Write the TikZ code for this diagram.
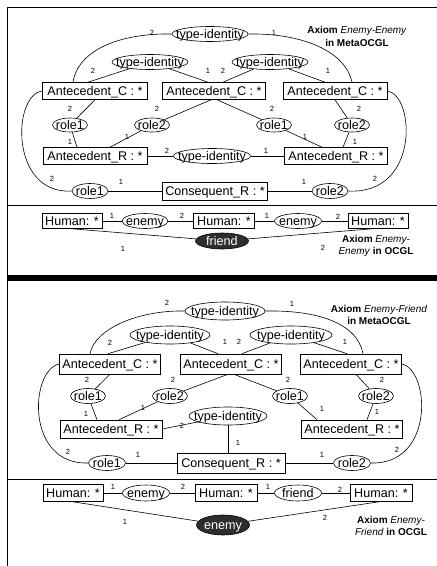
\documentclass[tikz,border=0pt]{standalone}
\usepackage{fontspec}
\setmainfont{Liberation Sans}
\usetikzlibrary{shapes.geometric,calc}
\newcommand\fsz{\fontsize{12.6}{14}\selectfont}
\newcommand\ctr[1]{\makebox[0pt]{#1}}
\begin{document}
\begin{tikzpicture}[x=1pt,y=-1pt,
  bx/.style 2 args={draw, line width=0.6pt, rectangle, inner sep=0pt, minimum width=#1pt, minimum height=#2pt, font=\fsz, text height=9pt, text depth=0pt},
  el/.style 2 args={draw, line width=0.6pt, ellipse, inner sep=0pt, minimum width=#1pt, minimum height=#2pt, font=\fsz, text height=8pt, text depth=0pt},
  fl/.style 2 args={el={#1}{#2}, fill=black!82, text=white},
  lb/.style={inner sep=0pt, font=\fontsize{7.5}{8}\selectfont},
  ax/.style={inner sep=0pt, align=center, font=\fontsize{10}{12.6}\selectfont},
  cn/.style={line width=0.6pt}
]
\useasboundingbox (0,0) rectangle (437,566);
% frame
\draw[line width=1.5pt] (7.5,566) -- (7.5,7.5) -- (437,7.5);
\draw[line width=0.8pt] (7.5,205) -- (437,205);
\fill (7,275) rectangle (437,281);
\draw[line width=0.8pt] (7.5,479) -- (437,479);

% ================= top panel =================
\node[el={76}{15}] (ti0) at (210,34) {\ctr{type-identity}};
\node[el={76}{15}] (ti1) at (150,62) {\ctr{type-identity}};
\node[el={76}{15}] (ti2) at (270,62) {\ctr{type-identity}};
\node[bx={105}{17}] (acl) at (95,91) {Antecedent\_C : *};
\node[bx={103}{17}] (acm) at (214,91) {Antecedent\_C : *};
\node[bx={104}{17}] (acr) at (335,91) {Antecedent\_C : *};
\node[el={35}{14}] (r1a) at (70,125) {\ctr{role1}};
\node[el={35}{14}] (r2a) at (152,125) {\ctr{role2}};
\node[el={35}{14}] (r1b) at (274,125) {\ctr{role1}};
\node[el={35}{14}] (r2b) at (352,125) {\ctr{role2}};
\node[bx={104}{17}] (arl) at (95,156) {Antecedent\_R : *};
\node[el={77}{15}] (tim) at (212,156) {\ctr{type-identity}};
\node[bx={103}{17}] (arr) at (336,156) {Antecedent\_R : *};
\node[el={36}{15}] (r1c) at (90,191) {\ctr{role1}};
\node[bx={105}{18}] (cons) at (215,191) {Consequent\_R : *};
\node[el={36}{15}] (r2c) at (330,191) {\ctr{role2}};
\node[bx={60}{15}] (hl) at (72,221) {Human: *};
\node[el={46}{15}] (en1) at (145,221) {\ctr{enemy}};
\node[bx={61}{15}] (hm) at (224,221) {Human: *};
\node[el={47}{15}] (en2) at (298,221) {\ctr{enemy}};
\node[bx={60}{15}] (hr) at (378,221) {Human: *};
\node[fl={53}{16}] (fr) at (222,241) {\ctr{friend}};
\node[ax] (axa) at (357,36.5) {\textbf{Axiom} \textit{Enemy-Enemy}\\\textbf{in MetaOCGL}};
\node[ax] (axb) at (376,246) {\textbf{Axiom} \textit{Enemy-}\\\textit{Enemy} \textbf{in OCGL}};

\draw[cn] (ti0.west) .. controls (120,33) and (78,50) .. ([xshift=-22pt]acl.north);
\draw[cn] (ti0.east) .. controls (300,33) and (345,50) .. ([xshift=17pt]acr.north);
\draw[cn] (acl.west) .. controls (12,95) and (10,195) .. (r1c.west);
\draw[cn] (acr.east) .. controls (415,95) and (420,195) .. (r2c.east);
\draw[cn] (ti1) -- ([xshift=-7pt]acl.north);
\draw[cn] (ti1) -- ([xshift=-6pt]acm.north);
\draw[cn] (ti2) -- ([xshift=9pt]acm.north);
\draw[cn] (ti2) -- ([xshift=-10pt]acr.north);
\draw[cn] (acl.south) -- (r1a);
\draw[cn] (r1a) -- ([xshift=-18pt]arl.north);
\draw[cn] ([xshift=-3pt]acm.south) -- (r2a);
\draw[cn] (r2a) -- ([xshift=15pt]arl.north);
\draw[cn] ([xshift=3pt]acm.south) -- (r1b);
\draw[cn] (r1b) -- ([xshift=-14pt]arr.north);
\draw[cn] (acr.south) -- (r2b);
\draw[cn] (r2b) -- ([xshift=7pt]arr.north);
\draw[cn] (arl) -- (tim) -- (arr);
\draw[cn] (r1c) -- (cons) -- (r2c);
\draw[cn] (hl) -- (en1) -- (hm) -- (en2) -- (hr);
\draw[cn] (hl.south) -- (fr);
\draw[cn] ([xshift=-6pt]hr.south) -- (fr);

\node[lb] (a1) at (152,33) {2};
\node[lb] (a2) at (274,33) {1};
\node[lb] (a3) at (93,71) {2};
\node[lb] (a4) at (208,71) {1};
\node[lb] (a5) at (223,71) {2};
\node[lb] (a6) at (328,71) {1};
\node[lb] (a7) at (70,109) {2};
\node[lb] (a8) at (157,109) {2};
\node[lb] (a9) at (272,109) {2};
\node[lb] (a10) at (359,109) {2};
\node[lb] (a11) at (70,142) {1};
\node[lb] (a12) at (127,137) {1};
\node[lb] (a13) at (305,137) {1};
\node[lb] (a14) at (355,142) {1};
\node[lb] (a15) at (167,151) {2};
\node[lb] (a16) at (266,151) {1};
\node[lb] (a17) at (52,179) {2};
\node[lb] (a18) at (121,182) {1};
\node[lb] (a19) at (304,182) {1};
\node[lb] (a20) at (375,179) {2};
\node[lb] (a21) at (112,216) {1};
\node[lb] (a22) at (182,216) {2};
\node[lb] (a23) at (267,216) {1};
\node[lb] (a24) at (338,217) {2};
\node[lb] (a25) at (123,249) {1};
\node[lb] (a26) at (323,248) {2};

% ================= bottom panel =================
\node[el={80}{18}] (ti3) at (225,311) {\ctr{type-identity}};
\node[el={80}{18}] (ti4) at (170,335) {\ctr{type-identity}};
\node[el={82}{18}] (ti5) at (291,335) {\ctr{type-identity}};
\node[bx={101}{20}] (acl2) at (110,364) {Antecedent\_C : *};
\node[bx={101}{20}] (acm2) at (231,364) {Antecedent\_C : *};
\node[bx={101}{20}] (acr2) at (351,364) {Antecedent\_C : *};
\node[el={35}{15}] (r1d) at (88,396) {\ctr{role1}};
\node[el={35}{15}] (r2d) at (170,396) {\ctr{role2}};
\node[el={35}{15}] (r1e) at (290,396) {\ctr{role1}};
\node[el={35}{15}] (r2e) at (376,396) {\ctr{role2}};
\node[el={78}{18}] (ti6) at (228,416) {\ctr{type-identity}};
\node[bx={102}{18}] (arl2) at (111,429) {Antecedent\_R : *};
\node[bx={101}{18}] (arr2) at (352,429) {Antecedent\_R : *};
\node[el={37}{15}] (r1f) at (107,463) {\ctr{role1}};
\node[bx={108}{20}] (cons2) at (231,463) {Consequent\_R : *};
\node[el={37}{15}] (r2f) at (352,463) {\ctr{role2}};
\node[bx={60}{17}] (hl2) at (73,493) {Human: *};
\node[el={47}{16}] (en3) at (146,493) {\ctr{enemy}};
\node[bx={62}{17}] (hm2) at (226,493) {Human: *};
\node[el={47}{16}] (fr2) at (298,493) {\ctr{friend}};
\node[bx={62}{17}] (hr2) at (381,493) {Human: *};
\node[fl={53}{20}] (enf) at (223,525) {\ctr{enemy}};
\node[ax] (axc) at (379,315) {\textbf{Axiom} \textit{Enemy-Friend}\\\textbf{in MetaOCGL}};
\node[ax] (axd) at (391,526) {\textbf{Axiom} \textit{Enemy-}\\\textit{Friend} \textbf{in OCGL}};

\draw[cn] (ti3.west) .. controls (140,310) and (95,328) .. ([xshift=-20pt]acl2.north);
\draw[cn] (ti3.east) .. controls (315,310) and (357,322) .. ([xshift=12pt]acr2.north);
\draw[cn] (acl2.west) .. controls (30,370) and (25,465) .. (r1f.west);
\draw[cn] (acr2.east) .. controls (430,370) and (435,465) .. (r2f.east);
\draw[cn] (ti4) -- ([xshift=-2pt]acl2.north);
\draw[cn] (ti4) -- ([xshift=-13pt]acm2.north);
\draw[cn] (ti5) -- ([xshift=11pt]acm2.north);
\draw[cn] (ti5) -- ([xshift=-4pt]acr2.north);
\draw[cn] (acl2.south) -- (r1d);
\draw[cn] (r1d) -- ([xshift=-14pt]arl2.north);
\draw[cn] ([xshift=-3pt]acm2.south) -- (r2d);
\draw[cn] (r2d) -- ([xshift=8pt]arl2.north);
\draw[cn] ([xshift=3pt]acm2.south) -- (r1e);
\draw[cn] (r1e) -- ([xshift=-35pt]arr2.north);
\draw[cn] ([xshift=5pt]acr2.south) -- (r2e);
\draw[cn] (r2e) -- ([xshift=15pt]arr2.north);
\draw[cn] (arl2.east) -- (ti6);
\draw[cn] (ti6.south) -- (ti6.south |- cons2.north);
\draw[cn] (r1f) -- (cons2) -- (r2f);
\draw[cn] (hl2) -- (en3) -- (hm2) -- (fr2) -- (hr2);
\draw[cn] (hl2.south) -- (enf);
\draw[cn] ([xshift=-2pt]hr2.south) -- (enf);

\node[lb] (b1) at (167,303) {2};
\node[lb] (b2) at (292,304) {1};
\node[lb] (b3) at (110,343) {2};
\node[lb] (b4) at (225,342) {1};
\node[lb] (b5) at (239,342) {2};
\node[lb] (b6) at (345,342) {1};
\node[lb] (b7) at (87,380) {2};
\node[lb] (b8) at (173,380) {2};
\node[lb] (b9) at (288,380) {2};
\node[lb] (b10) at (382,380) {2};
\node[lb] (b11) at (86,414) {1};
\node[lb] (b12) at (143,408) {1};
\node[lb] (b13) at (322,409) {1};
\node[lb] (b14) at (377,412) {1};
\node[lb] (b15) at (182,426) {2};
\node[lb] (b16) at (238,443) {1};
\node[lb] (b17) at (68,452) {2};
\node[lb] (b18) at (138,455) {1};
\node[lb] (b19) at (322,455) {1};
\node[lb] (b20) at (397,450) {2};
\node[lb] (b21) at (113,487) {1};
\node[lb] (b22) at (183,487) {2};
\node[lb] (b23) at (268,487) {1};
\node[lb] (b24) at (340,490) {2};
\node[lb] (b25) at (125,522) {1};
\node[lb] (b26) at (325,518) {2};
\end{tikzpicture}
\end{document}
